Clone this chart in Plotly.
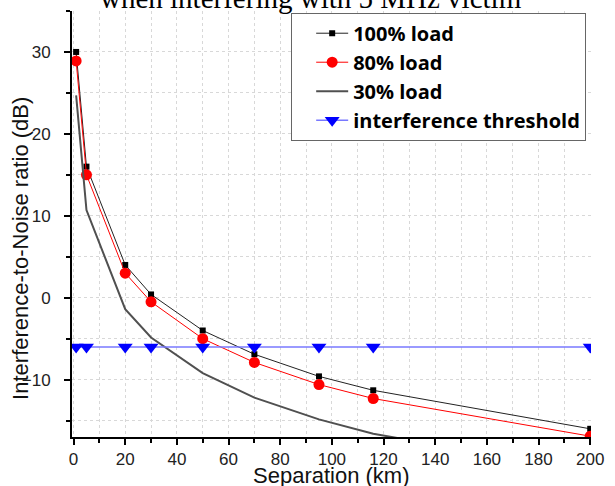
import plotly.graph_objects as go

separation_km = [1, 5, 20, 30, 50, 70, 95, 116, 200]
load_100 = [30.0, 16.0, 4.0, 0.4, -4.0, -6.9, -9.6, -11.3, -16.0]
load_80 = [28.9, 15.0, 3.0, -0.5, -5.0, -7.9, -10.6, -12.3, -16.9]
load_30 = [24.7, 10.7, -1.4, -4.85, -9.2, -12.2, -14.85, -16.6, -21.3]
threshold = [-6, -6, -6, -6, -6, -6, -6, -6, -6]

x_ticks = [0, 20, 40, 60, 80, 100, 120, 140, 160, 180, 200]
y_ticks = [-10, 0, 10, 20, 30]

title_text = "when interfering with 5 MHz victim"
x_title = "Separation (km)"
y_title = "Interference-to-Noise ratio (dB)"

fig = go.Figure()
fig.add_trace(go.Scatter(
    x=separation_km, y=load_100, name="100% load", mode="lines+markers",
    line=dict(color="#222222", width=1),
    marker=dict(symbol="square", size=6, color="black"),
))
fig.add_trace(go.Scatter(
    x=separation_km, y=load_80, name="80% load", mode="lines+markers",
    line=dict(color="red", width=1),
    marker=dict(symbol="circle", size=11, color="red"),
))
fig.add_trace(go.Scatter(
    x=separation_km, y=load_30, name="30% load", mode="lines",
    line=dict(color="#505050", width=2),
))
fig.add_trace(go.Scatter(
    x=separation_km, y=threshold, name="interference threshold", mode="lines+markers",
    line=dict(color="rgb(120,120,255)", width=1.5),
    marker=dict(symbol="triangle-down", size=13, color="blue"),
))

axis_common = dict(
    showline=True, linecolor="black", linewidth=2,
    ticks="outside", ticklen=6, tickwidth=1.5, tickcolor="black",
    showgrid=False, zeroline=False,
    tickfont=dict(family="Liberation Sans", size=17, color="#222222"),
)

fig.update_xaxes(
    range=[-0.6, 200.3], tickvals=x_ticks, ticklabelstandoff=0,
    minor=dict(dtick=10, tick0=0, ticks="outside", ticklen=4, tickwidth=1.5,
               tickcolor="black", showgrid=True, gridcolor="#d8d8d8",
               griddash="dot", gridwidth=1),
    **axis_common,
)
fig.update_yaxes(
    range=[-17, 35], tickvals=y_ticks, ticklabelstandoff=10,
    minor=dict(dtick=5, tick0=0, ticks="outside", ticklen=4, tickwidth=1.5,
               tickcolor="black", showgrid=True, gridcolor="#d8d8d8",
               griddash="dot", gridwidth=1),
    **axis_common,
)

fig.update_layout(
    width=615, height=486,
    margin=dict(l=72, r=15, t=11, b=49),
    paper_bgcolor="white", plot_bgcolor="white",
    showlegend=True,
    legend=dict(
        x=0.4223, y=0.996, xanchor="left", yanchor="top",
        bgcolor="white", bordercolor="#666666", borderwidth=1,
        font=dict(family="Open Sans", size=20, color="black", weight="bold"),
        tracegroupgap=0, itemwidth=32, indentation=19,
    ),
    annotations=[
        dict(text=title_text, xref="paper", yref="paper", x=(315 - 72) / 528,
             y=0.9836, yshift=2, xanchor="center", yanchor="bottom", showarrow=False,
             font=dict(family="Liberation Serif", size=29, color="black")),
        dict(text=x_title, xref="paper", yref="paper", x=(336 - 72) / 528,
             y=-(475 - 437) / 426, xanchor="center", yanchor="middle",
             showarrow=False,
             font=dict(family="Liberation Sans", size=22, color="#111111")),
        dict(text=y_title, xref="paper", yref="paper", x=-(72 - 20) / 528,
             y=(437 - 248) / 426, xanchor="center", yanchor="middle", textangle=-90,
             showarrow=False,
             font=dict(family="Liberation Sans", size=22, color="#111111")),
    ],
)

fig.write_html(
    "out.html",
    config={"displayModeBar": False},
    post_script="document.body.style.margin='0px';document.body.style.overflow='hidden';",
)
